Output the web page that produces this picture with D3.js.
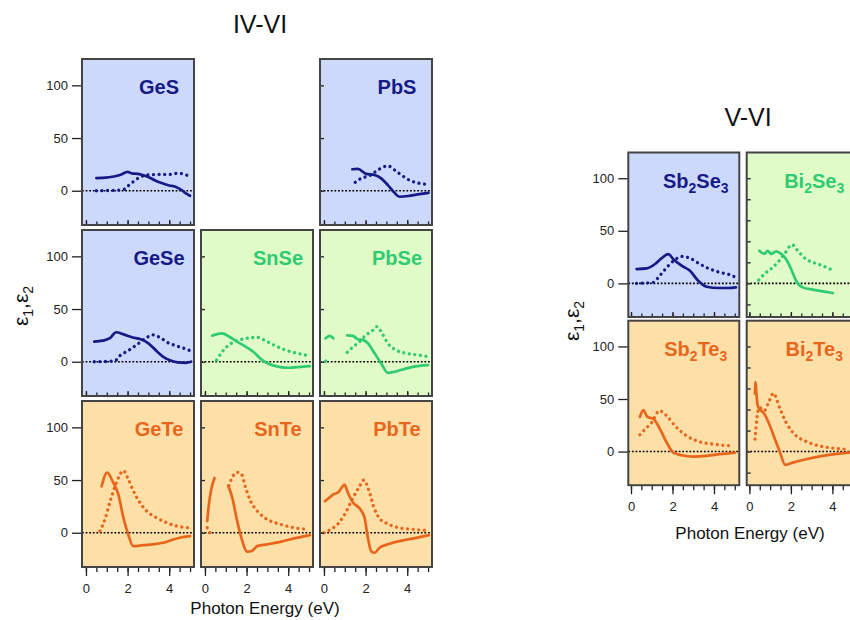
<!DOCTYPE html>
<html>
<head>
<meta charset="utf-8">
<script src="https://cdn.jsdelivr.net/npm/d3@7/dist/d3.min.js"></script>
<style>
  html, body { margin: 0; padding: 0; background: #ffffff; }
  svg { display: block; font-family: "Liberation Sans", Arial, sans-serif; }
</style>
</head>
<body>
<svg id="chart" width="850" height="620"></svg>
<script>
// Dielectric functions (eps1 solid, eps2 dotted) versus photon energy in eV.
// Each entry is [energy, value]; null breaks the trace.
const GeS_eps1 = [[0.5,12],[0.8,12.2],[1.1,12.8],[1.4,13.8],[1.7,15.5],[2.0,18],[2.2,16.5],[2.5,16],[2.8,14.5],[3.0,13],[3.3,10],[3.6,7.5],[4.0,5],[4.3,3.8],[4.6,0.5],[4.8,-2.5],[5.0,-4.8]];
const GeS_eps2 = [[0.5,0],[1.0,0.2],[1.5,0.5],[1.85,1.5],[2.05,5],[2.3,9],[2.6,13],[3.0,15],[3.5,15.5],[4.0,15.5],[4.4,16.5],[4.7,16],[5.0,12.5]];
const GeSe_eps1 = [[0.4,19],[0.8,20],[1.15,22.3],[1.45,28],[1.8,26],[2.25,23],[2.6,21.5],[3.0,17.5],[3.4,10],[3.7,4.8],[4.0,1.6],[4.4,-0.6],[4.8,-1],[5.05,0]];
const GeSe_eps2 = [[0.4,0],[1.0,0.3],[1.4,1],[1.63,5.7],[2.03,10.5],[2.43,16],[2.83,21.7],[3.2,25.5],[3.55,23],[3.95,18],[4.35,15],[4.75,12.4],[5.0,10.5]];
const GeTe_eps1 = [[0.75,44],[1.02,57],[1.3,48],[1.55,36.6],[1.8,14.3],[2.03,-1.6],[2.27,-12.7],[2.75,-11.8],[3.23,-11],[3.7,-9.5],[4.2,-6.4],[4.67,-4],[5.0,-3.2]];
const GeTe_eps2 = [[0.67,1.6],[0.91,12.7],[1.15,29],[1.39,43.6],[1.63,55],[1.79,59],[2.03,51],[2.27,40],[2.59,28.7],[2.91,20.7],[3.39,14.3],[3.87,9.6],[4.35,6.4],[4.9,4.8]];
const SnSe_eps1 = [[0.35,24.8],[0.83,27],[1.15,24],[1.55,19],[1.95,14.3],[2.35,9],[2.75,1.6],[3.07,-2.2],[3.55,-4.8],[4.03,-5.7],[4.6,-4.8],[5.04,-4.1]];
const SnSe_eps2 = [[0.56,1.6],[0.83,9.5],[1.15,16],[1.55,20],[2.03,22.3],[2.5,23.2],[2.9,20],[3.4,15],[3.95,10.5],[4.43,8],[4.83,6.4]];
const SnTe_eps1 = [[0.11,11],[0.19,27],[0.3,41],[0.46,52],null,[1.12,44.6],[1.31,33.4],[1.55,11],[1.75,-4.8],[2.03,-18],[2.27,-17],[2.51,-12.7],[2.99,-11],[3.63,-8.6],[4.27,-5.4],[5.04,-2.2]];
const SnTe_eps2 = [[0.11,4.8],[0.24,0],null,[1.15,44.6],[1.31,52.5],[1.55,57.3],[1.75,55.7],[1.95,43],[2.19,30],[2.51,20.7],[2.99,12.7],[3.63,8],[4.27,4.8],[5.0,3.2]];
const PbS_eps1 = [[1.36,20.4],[1.63,20.7],[2.03,16],[2.43,15],[2.75,11.8],[3.07,5.4],[3.39,-2],[3.63,-5.7],[4.11,-4.8],[4.59,-3.2],[5.02,-2]];
const PbS_eps2 = [[1.5,8],[1.79,11.8],[2.19,14.3],[2.67,20.7],[3.07,23.6],[3.39,19.7],[3.71,15],[4.11,10],[4.59,7],[5.02,6]];
const PbSe_eps1 = [[0.08,22.3],[0.27,24.5],[0.45,22.3],null,[1.12,25],[1.39,24.5],[1.63,21.3],[1.87,20.7],[2.11,17.5],[2.43,8],[2.75,-1.6],[3.07,-10.5],[3.39,-9.5],[3.79,-7.3],[4.27,-4.8],[5.0,-3.2]];
const PbSe_eps2 = [[0.08,0.5],[0.3,1.5],null,[1.12,9],[1.39,14],[1.71,19],[2.03,25.5],[2.32,29.3],[2.54,33.4],[2.79,27],[3.07,17.5],[3.47,11],[3.95,8],[4.51,6.4],[5.0,4.8]];
const PbTe_eps1 = [[0.05,30],[0.27,33.4],[0.47,36.6],[0.67,38],[0.99,45.5],[1.15,38],[1.39,28.7],[1.71,23.2],[1.95,14.3],[2.11,-4.8],[2.27,-17.5],[2.43,-19],[2.67,-14.3],[3.15,-10.5],[3.79,-7.3],[4.43,-4.8],[5.04,-2.2]];
const PbTe_eps2 = [[0.0,0],[0.4,4],[0.72,9.5],[1.04,19],[1.36,31.8],[1.68,43],[1.92,50],[2.16,40],[2.4,24],[2.64,14.3],[3.04,8.6],[3.6,4.8],[4.24,3.2],[4.96,2.2]];
const Sb2Se3_eps1 = [[0.27,13.6],[0.75,14.2],[1.16,18.4],[1.48,24],[1.8,27.8],[2.04,23],[2.44,16.8],[2.84,12],[3.24,2.5],[3.65,-3.2],[4.21,-4.4],[4.69,-4.4],[5.06,-3.8]];
const Sb2Se3_eps2 = [[0.27,0],[1.08,1],[1.32,5.7],[1.56,11.4],[1.8,16.8],[2.12,22.5],[2.44,25.6],[2.84,24],[3.32,18.4],[3.81,13.6],[4.29,10.4],[4.77,8.2],[5.06,5.7]];
const Bi2Se3_eps1 = [[0.48,31],[0.72,28],[0.88,31],[1.04,28],[1.29,30.5],[1.53,28],[1.77,23],[2.01,13.7],[2.25,2.5],[2.57,-3.8],[3.05,-6],[3.53,-7.6],[4.02,-9.2]];
const Bi2Se3_eps2 = [[0.45,3.2],[0.72,8.9],[1.04,13.7],[1.37,20],[1.69,28],[2.06,36.8],[2.33,31],[2.73,23],[3.13,19.4],[3.53,16.8],[3.98,12.7]];
const Sb2Te3_eps1 = [[0.43,33],[0.59,39.5],[0.79,33],[1.08,31],[1.4,21.3],[1.72,8.6],[2.04,-1],[2.44,-3.5],[3.0,-4.8],[3.65,-4.1],[4.29,-2.5],[5.01,-1]];
const Sb2Te3_eps2 = [[0.43,16],[0.68,21.3],[1.0,27.7],[1.37,38.9],[1.72,34],[2.12,24.5],[2.68,15],[3.32,9.2],[3.97,7],[4.85,5.4]];
const Bi2Te3_eps1 = [[0.27,55],[0.3,66],[0.34,55],[0.4,44],[0.5,40],[0.56,39],[0.72,35.7],[0.96,26],[1.2,13.4],[1.45,0.6],[1.73,-12.7],[2.09,-10.5],[2.73,-7.3],[3.53,-4.1],[4.34,-1.9],[4.82,-1]];
const Bi2Te3_eps2 = [[0.27,11.8],[0.35,29.3],[0.48,42],[0.72,39],[0.96,48.4],[1.16,55.4],[1.45,42],[1.77,27.7],[2.17,16.6],[2.73,9.6],[3.37,5.4],[4.18,2.9],[4.82,1.9]];

// Axis ticks and texts
const yTickLabels = [0, 50, 100];
const yTicksFine = [-20, 0, 20, 40, 60, 80, 100];
const xTickLabels = [0, 2, 4];
const groupTitles = ["IV-VI", "V-VI"];
const xAxisTitle = "Photon Energy (eV)";

// Chalcogen families: background and trace colours
const families = {
  S:  { bg: "#cdd9fb", ink: "#161a86" },
  Se: { bg: "#e1fbc8", ink: "#2fcb72" },
  Te: { bg: "#fde0a8", ink: "#e8661c" }
};

const svg = d3.select("#chart");

// Grid of one group of panels
function drawGroup(g) {
  const root = svg.append("g");
  const x0 = d3.scaleLinear().domain(g.xDomain).range([0, g.w]);
  const y0 = d3.scaleLinear().domain(g.yDomain).range([g.h, 0]);

  g.cells.forEach(c => {
    const left = g.left + c.col * g.dx;
    const top = g.top + c.row * g.dy;
    const x = x0.copy().range([left, left + g.w]);
    const y = y0.copy().range([top + g.h, top]);
    const fam = families[c.fam];
    const p = root.append("g");

    p.append("rect").attr("x", left).attr("y", top).attr("width", g.w).attr("height", g.h)
      .attr("fill", fam.bg);

    // zero reference
    p.append("line").attr("x1", left).attr("x2", left + g.w)
      .attr("y1", y(0)).attr("y2", y(0))
      .attr("stroke", "#000").attr("stroke-width", 1.6).attr("stroke-dasharray", "1.8,1.8");

    const line = d3.line().defined(d => d !== null)
      .x(d => x(d[0])).y(d => y(d[1])).curve(d3.curveMonotoneX);

    p.append("path").datum(c.eps2).attr("d", line).attr("fill", "none")
      .attr("stroke", fam.ink).attr("stroke-width", 3.3)
      .attr("stroke-linecap", "round").attr("stroke-dasharray", "0.01,5.6");
    p.append("path").datum(c.eps1).attr("d", line).attr("fill", "none")
      .attr("stroke", fam.ink).attr("stroke-width", 2.7)
      .attr("stroke-linejoin", "round").attr("stroke-linecap", "round");

    // material label with numeric subscripts
    const t = p.append("text").attr("x", left + g.labelDx).attr("y", top + 35)
      .attr("text-anchor", "middle").attr("font-size", 20).attr("font-weight", "bold")
      .attr("fill", fam.ink);
    let sub = false;
    c.name.match(/[A-Za-z]+|\d+/g).forEach(part => {
      const isNum = /\d/.test(part);
      const ts = t.append("tspan").text(part);
      if (isNum) { ts.attr("font-size", 14).attr("dy", 5); sub = true; }
      else if (sub) { ts.attr("dy", -5); sub = false; }
    });

    const bottomRow = c.row === g.rows - 1;
    const firstCol = c.col === 0;

    // x axis along the panel bottom
    const xAx = bottomRow ? d3.axisBottom(x) : d3.axisTop(x);
    const minor = d3.range(0, 5.01, 0.5);
    p.append("g").attr("transform", `translate(0,${top + g.h})`)
      .call((bottomRow ? d3.axisBottom(x) : d3.axisTop(x)).tickValues(minor)
        .tickSize(bottomRow ? 5 : 3.5).tickFormat(""))
      .call(a => a.select(".domain").remove());
    p.append("g").attr("transform", `translate(0,${top + g.h})`)
      .call(xAx.tickValues(xTickLabels).tickSize(bottomRow ? 9 : 5)
        .tickFormat(bottomRow ? d3.format("d") : ""))
      .call(a => a.select(".domain").remove())
      .call(a => a.selectAll("text").attr("font-size", 13).attr("fill", "#222")
        .attr("font-family", "Liberation Sans, Arial, sans-serif").attr("dy", "1.1em"));

    // y axis along the panel left
    if (firstCol) {
      p.append("g").attr("transform", `translate(${left},0)`)
        .call(d3.axisLeft(y).tickValues(yTickLabels).tickSize(10).tickPadding(4).tickFormat(d3.format("d")))
        .call(a => a.select(".domain").remove())
        .call(a => a.selectAll("text").attr("font-size", 13).attr("fill", "#222")
          .attr("font-family", "Liberation Sans, Arial, sans-serif"));
    } else {
      p.append("g").attr("transform", `translate(${left},0)`)
        .call(d3.axisRight(y).tickValues(g.innerTicks).tickSize(4).tickFormat(""))
        .call(a => a.select(".domain").remove());
    }
    p.selectAll(".tick line").attr("stroke", "#222").attr("stroke-width", 1.3);

    p.append("rect").attr("x", left).attr("y", top).attr("width", g.w).attr("height", g.h)
      .attr("fill", "none").attr("stroke", "#444").attr("stroke-width", 2);
  });

  // group titles
  root.append("text").attr("x", g.titleX).attr("y", g.titleY).attr("text-anchor", "middle")
    .attr("font-size", 25).attr("fill", "#111").text(g.title);
  root.append("text").attr("x", g.xLabelX).attr("y", g.xLabelY).attr("text-anchor", "middle")
    .attr("font-size", 17).attr("fill", "#111").text(xAxisTitle);

  const yl = root.append("text")
    .attr("transform", `translate(${g.yLabelX},${g.yLabelY}) rotate(-90)`)
    .attr("text-anchor", "middle").attr("font-size", 21).attr("fill", "#111");
  yl.append("tspan").text("ε");
  yl.append("tspan").attr("font-size", 14).attr("dy", 5).text("1");
  yl.append("tspan").attr("dy", -5).text(",ε");
  yl.append("tspan").attr("font-size", 14).attr("dy", 5).text("2");
}

drawGroup({
  title: groupTitles[0], titleX: 260, titleY: 33,
  left: 82, top: 59, w: 112, h: 166, dx: 119, dy: 171, rows: 3,
  xDomain: [-0.19, 5.19], yDomain: [-32.5, 125], labelDx: 77,
  innerTicks: yTickLabels,
  xLabelX: 265, xLabelY: 614, yLabelX: 28, yLabelY: 306,
  cells: [
    { name: "GeS",  row: 0, col: 0, fam: "S",  eps1: GeS_eps1,  eps2: GeS_eps2 },
    { name: "PbS",  row: 0, col: 2, fam: "S",  eps1: PbS_eps1,  eps2: PbS_eps2 },
    { name: "GeSe", row: 1, col: 0, fam: "S",  eps1: GeSe_eps1, eps2: GeSe_eps2 },
    { name: "SnSe", row: 1, col: 1, fam: "Se", eps1: SnSe_eps1, eps2: SnSe_eps2 },
    { name: "PbSe", row: 1, col: 2, fam: "Se", eps1: PbSe_eps1, eps2: PbSe_eps2 },
    { name: "GeTe", row: 2, col: 0, fam: "Te", eps1: GeTe_eps1, eps2: GeTe_eps2 },
    { name: "SnTe", row: 2, col: 1, fam: "Te", eps1: SnTe_eps1, eps2: SnTe_eps2 },
    { name: "PbTe", row: 2, col: 2, fam: "Te", eps1: PbTe_eps1, eps2: PbTe_eps2 }
  ]
});

drawGroup({
  title: groupTitles[1], titleX: 748, titleY: 126,
  left: 628.3, top: 152.5, w: 111, h: 164.5, dx: 118.4, dy: 168.2, rows: 2,
  xDomain: [-0.13, 5.22], yDomain: [-32, 124.5], labelDx: 67.5,
  innerTicks: yTicksFine,
  xLabelX: 750, xLabelY: 539, yLabelX: 579, yLabelY: 321,
  cells: [
    { name: "Sb2Se3", row: 0, col: 0, fam: "S",  eps1: Sb2Se3_eps1, eps2: Sb2Se3_eps2 },
    { name: "Bi2Se3", row: 0, col: 1, fam: "Se", eps1: Bi2Se3_eps1, eps2: Bi2Se3_eps2 },
    { name: "Sb2Te3", row: 1, col: 0, fam: "Te", eps1: Sb2Te3_eps1, eps2: Sb2Te3_eps2 },
    { name: "Bi2Te3", row: 1, col: 1, fam: "Te", eps1: Bi2Te3_eps1, eps2: Bi2Te3_eps2 }
  ]
});
</script>
</body>
</html>
